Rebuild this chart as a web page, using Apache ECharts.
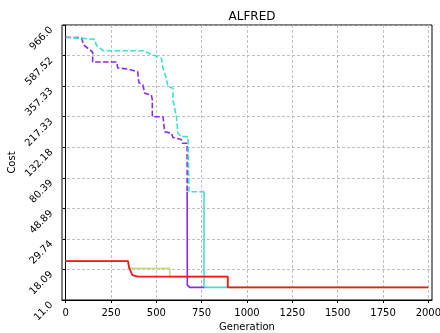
<!DOCTYPE html>
<html>
<head>
<meta charset="utf-8">
<script src="https://cdn.jsdelivr.net/npm/echarts@6/dist/echarts.min.js"></script>
<style>
  html, body { margin: 0; padding: 0; background: #fff; }
  #chart { width: 440px; height: 333px; }
</style>
</head>
<body>
<div id="chart"></div>
<script>
// tick labels (log-spaced cost axis)
const yTickLabels = ["11.0", "18.09", "29.74", "48.89", "80.39", "132.18", "217.33", "357.33", "587.52", "966.0"];
const xTicks = [0, 250, 500, 750, 1000, 1250, 1500, 1750, 2000];

// series: generation / cost
const purpleDashGen = [0, 88, 99, 149, 149, 281, 287, 342, 397, 404, 426, 436, 473, 478, 478, 537, 546, 583, 592, 638, 644, 670, 670];
const purpleDashCost = [791, 785, 698, 622, 529, 529, 480, 472, 452, 378, 364, 318, 309, 285, 217, 217, 170, 166, 155, 150, 141, 141, 64];

const purpleGen = [670, 671, 684, 767];
const purpleCost = [64, 14, 13.5, 13.5];

const cyanDashGen = [0, 160, 169, 206, 426, 482, 528, 537, 555, 564, 592, 592, 611, 619, 638, 675, 680, 680, 763];
const cyanDashCost = [791, 765, 698, 636, 636, 593, 562, 477, 406, 354, 345, 285, 217, 166, 157, 157, 157, 64, 64];

const cyanGen = [763, 763, 769, 894];
const cyanCost = [64, 14, 13.5, 13.5];

const redGen = [0, 344, 350, 360, 368, 398, 894, 894, 2000];
const redCost = [20.7, 20.7, 18.6, 18.1, 16.5, 16.1, 16.1, 13.5, 13.5];

const yellowGen = [0, 344, 350, 574, 574, 894, 894, 2000];
const yellowCost = [20.7, 20.7, 18.4, 18.4, 16.1, 16.1, 13.5, 13.5];

// cost -> position on the log-spaced axis (0..9)
const yMin = 11, yMax = 966;
const toK = (c) => Math.log(c / yMin) / Math.log(yMax / yMin) * 9;
const pts = (gen, cost) => gen.map((g, i) => [g, toK(cost[i])]);

const mkLine = (name, gen, cost, color, width, dashed) => ({
  name,
  type: "line",
  data: pts(gen, cost),
  showSymbol: false,
  animation: false,
  lineStyle: { color, width, type: dashed ? [5.5, 2.4] : "solid" },
});

const chart = echarts.init(document.getElementById("chart"));

const font = "DejaVu Sans";

chart.setOption({
  animation: false,
  textStyle: { fontFamily: font },
  title: {
    text: "ALFRED",
    left: 247,
    textAlign: "center",
    top: 6,
    textStyle: { fontFamily: font, fontSize: 12, fontWeight: "normal", color: "#000" },
  },
  grid: {
    left: 62,
    right: 8,
    top: 25,
    bottom: 33,
    outerBoundsMode: "none",
    containLabel: false,
    show: true,
    borderColor: "#000",
    borderWidth: 1,
    backgroundColor: "transparent",
  },
  xAxis: {
    type: "value",
    min: -20,
    max: 2020,
    name: "Generation",
    nameLocation: "middle",
    nameGap: 22,
    nameMoveOverlap: false,
    nameTextStyle: { fontFamily: font, fontSize: 10, color: "#000" },
    axisLine: { show: true, onZero: false, lineStyle: { color: "#000", width: 1 } },
    axisTick: { show: true, length: 3, customValues: xTicks, lineStyle: { color: "#000" } },
    axisLabel: {
      customValues: xTicks,
      fontFamily: font,
      fontSize: 10,
      color: "#000",
      margin: 8,
      formatter: (v) => String(v),
    },
    splitLine: { show: true, lineStyle: { color: "#b0b0b0", type: [3, 2], width: 0.8 } },
  },
  yAxis: {
    type: "value",
    min: 0,
    max: 9,
    interval: 1,
    name: "Cost",
    nameLocation: "middle",
    nameGap: 45,
    nameMoveOverlap: false,
    nameTextStyle: { fontFamily: font, fontSize: 10, color: "#000" },
    axisLine: { show: true, lineStyle: { color: "#000", width: 1 } },
    axisTick: { show: true, length: 3, lineStyle: { color: "#000" } },
    axisLabel: {
      rotate: 45,
      fontFamily: font,
      fontSize: 10,
      color: "#000",
      margin: 14,
      verticalAlign: "top",
      formatter: (v) => yTickLabels[Math.round(v)],
    },
    splitLine: { show: true, lineStyle: { color: "#b0b0b0", type: [3, 2], width: 0.8 } },
  },
  series: [
    mkLine("yellow", yellowGen, yellowCost, "#cdd886", 1.6, false),
    mkLine("purple-dash", purpleDashGen, purpleDashCost, "#8a2be2", 1.6, true),
    mkLine("purple", purpleGen, purpleCost, "#8a2be2", 1.6, false),
    mkLine("cyan-dash", cyanDashGen, cyanDashCost, "#40e0d0", 1.6, true),
    mkLine("cyan", cyanGen, cyanCost, "#40e0d0", 1.6, false),
    mkLine("red", redGen, redCost, "#f01a1a", 1.8, false),
  ],
});

window.addEventListener("resize", () => chart.resize());
</script>
</body>
</html>
